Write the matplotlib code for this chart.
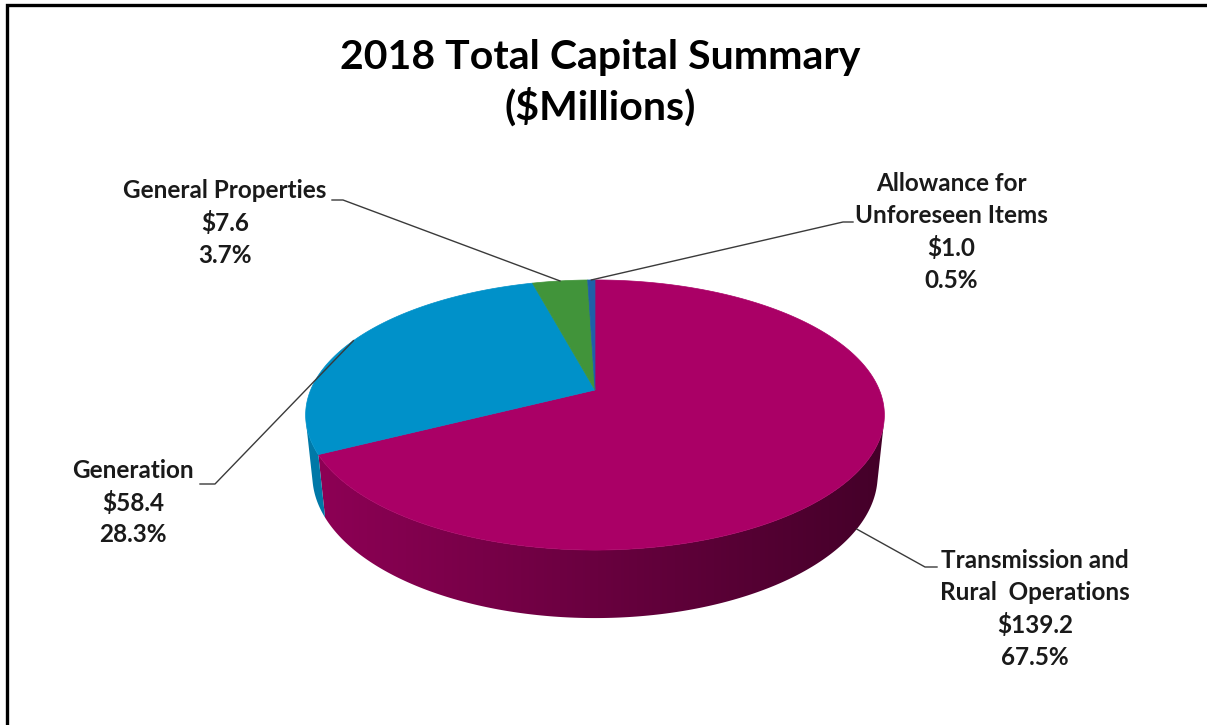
import numpy as np
import matplotlib.pyplot as plt
from matplotlib.colors import to_rgb

# ---------------------------------------------------------------------------
# Data
# ---------------------------------------------------------------------------
categories = ["Transmission and\nRural  Operations", "Generation",
              "General Properties", "Allowance for\nUnforeseen Items"]
values = [139.2, 58.4, 7.6, 1.0]
colors = ["#AA0066", "#0091C9", "#41943A", "#1F5FA8"]

title_lines = ["2018 Total Capital Summary", "($Millions)"]

# ---------------------------------------------------------------------------
# 3D view (perspective projection of a flat cylinder)
# ---------------------------------------------------------------------------
W, H = 1207, 725
cx, cy = 595, 390          # projected pie centre in pixels
elev = np.radians(27.3)
sin_e, cos_e = np.sin(elev), np.cos(elev)
dist = 4.8                 # camera distance (pie radius = 1)
focal = 1365
thick = 0.24               # pie thickness


def project(theta, z=0.0):
    x = np.cos(theta)
    y = np.sin(theta)
    up = z * cos_e + y * sin_e
    depth = dist + y * cos_e - z * sin_e
    return cx + x * focal / depth, cy - up * focal / depth


total = sum(values)
shares = [v / total for v in values]

# slices start at 12 o'clock and run clockwise
bounds = np.pi / 2 - 2 * np.pi * np.concatenate([[0], np.cumsum(shares)])
starts, ends = bounds[:-1], bounds[1:]
mids = (starts + ends) / 2

fig = plt.figure(figsize=(W / 100, H / 100), dpi=100)
ax = fig.add_axes([0, 0, 1, 1])
ax.set_xlim(0, W)
ax.set_ylim(H, 0)
ax.axis("off")

plt.rcParams["font.family"] = ["Lato", "DejaVu Sans"]

# frame lines (left and top)
ax.plot([7, 7, W], [H, 5, 5], color="black", lw=2.4, solid_joinstyle="miter")

# ---------------------------------------------------------------------------
# Side wall: only the part facing the camera, shaded left to right
# ---------------------------------------------------------------------------
cam_y = -dist * cos_e
lim = np.arcsin(-1 / abs(cam_y))
vis_lo, vis_hi = np.pi - lim, 2 * np.pi + lim
xs_all = project(np.linspace(vis_lo, vis_hi, 400))[0]
xmin, xmax = xs_all.min(), xs_all.max()
ramp = np.linspace(0.84, 0.40, 300)

for s, e, col in zip(starts, ends, colors):
    # slice angles run clockwise; bring them onto the visible range
    lo, hi = e, s
    while hi < vis_lo:
        lo += 2 * np.pi
        hi += 2 * np.pi
    lo, hi = max(lo, vis_lo), min(hi, vis_hi)
    if hi <= lo:
        continue
    arc = np.linspace(lo, hi, 200)
    tx, ty = project(arc)
    bx, by = project(arc[::-1], -thick)
    poly = plt.Polygon(np.column_stack([np.r_[tx, bx], np.r_[ty, by]]),
                       closed=True, facecolor="none", edgecolor="none")
    ax.add_patch(poly)
    grad = ramp[None, :, None] * np.array(to_rgb(col))[None, None, :]
    img = ax.imshow(grad, extent=(xmin, xmax, by.max() + 2, ty.min() - 2),
                    aspect="auto", interpolation="bilinear", zorder=1)
    img.set_clip_path(poly)

# ---------------------------------------------------------------------------
# Top face
# ---------------------------------------------------------------------------
for s, e, col in zip(starts, ends, colors):
    arc = np.linspace(s, e, max(int(abs(e - s) * 80), 4))
    px, py = project(arc)
    poly = np.column_stack([np.r_[cx, px], np.r_[cy, py]])
    ax.add_patch(plt.Polygon(poly, closed=True, facecolor=col,
                             edgecolor=col, lw=0.5, zorder=2))

ax.set_xlim(0, W)
ax.set_ylim(H, 0)

# ---------------------------------------------------------------------------
# Labels with leader lines
# ---------------------------------------------------------------------------
# first-line centre of each label, elbow point and end of the leader
label_pos = [(1035, 560), (133, 470), (225, 190), (951, 183)]
elbows = [((925, 567), (937, 567)), ((215, 484), (200, 484)),
          ((343, 200), (332, 200)), ((843, 222), (853, 222))]
anchor_z = [-thick, 0.0, 0.0, 0.0]
line_gap = 32.5

for i, name in enumerate(categories):
    lines = name.split("\n") + [f"${values[i]:.1f}", f"{shares[i] * 100:.1f}%"]
    lx, ly = label_pos[i]
    for j, txt in enumerate(lines):
        ax.text(lx, ly + j * line_gap, txt, ha="center", va="center",
                fontsize=17.5, fontweight="bold", color="#1a1a1a", zorder=4)
    sx, sy = project(mids[i], anchor_z[i])
    (ex, ey), (hx, hy) = elbows[i]
    ax.plot([sx, ex, hx], [sy, ey, hy], color="#3a3a3a", lw=1.0, zorder=3)

for j, txt in enumerate(title_lines):
    ax.text(600, 57 + j * 50, txt, ha="center", va="center",
            fontsize=29.5, fontweight="bold", color="black")

fig.savefig("out.png", dpi=100)
